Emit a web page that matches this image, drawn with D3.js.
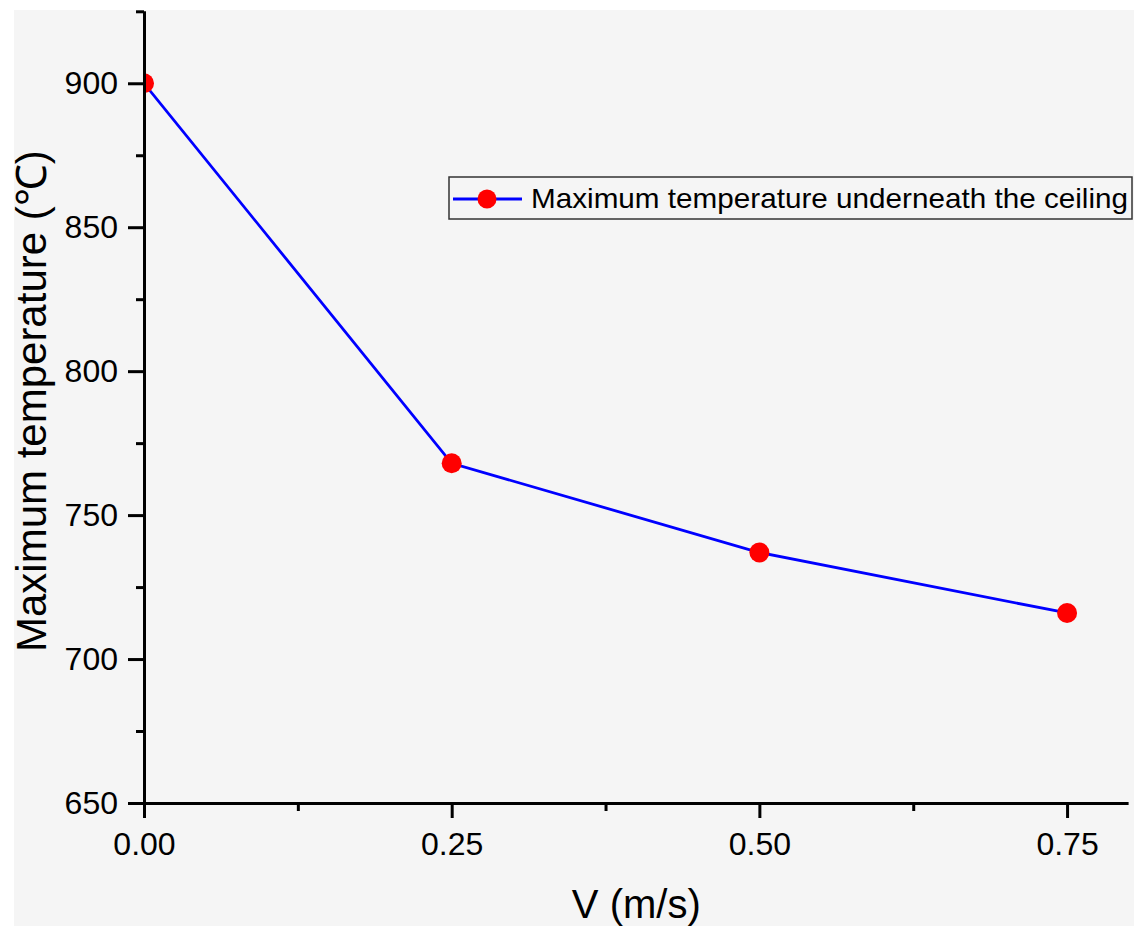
<!DOCTYPE html>
<html>
<head>
<meta charset="utf-8">
<script src="https://cdn.jsdelivr.net/npm/d3@7"></script>
<style>
  html, body { margin: 0; padding: 0; background: #ffffff; }
  svg { display: block; }
  text { font-family: "Liberation Sans", Arial, sans-serif; fill: #000; }
</style>
</head>
<body>
<svg id="chart" width="1142" height="926"></svg>
<script>
// Air velocity (m/s) and the peak ceiling temperature (°C) at each velocity
const velocities = [0, 0.25, 0.5, 0.75];
const maxTemps = [900, 768, 737, 716];
const xTicks = [0, 0.25, 0.5, 0.75];
const xMinorTicks = [0.125, 0.375, 0.625];
const yTicks = [650, 700, 750, 800, 850, 900];
const yMinorTicks = [675, 725, 775, 825, 875, 925];
const seriesName = "Maximum temperature underneath the ceiling";
const xTitle = "V (m/s)";
const yTitle = "Maximum temperature (\u2103)";

const svg = d3.select("#chart");
const plot = { left: 144, right: 1128.6, top: 11.3, bottom: 803 };

// Light grey page panel
svg.append("rect")
  .attr("x", 14).attr("y", 10)
  .attr("width", 1120).attr("height", 916)
  .attr("fill", "#f5f5f5");

const x = d3.scaleLinear().domain([0, 0.8]).range([plot.left, plot.right]);
const y = d3.scaleLinear().domain([650, 925]).range([plot.bottom, plot.top]);

svg.append("clipPath").attr("id", "plotClip")
  .append("rect")
  .attr("x", plot.left).attr("y", plot.top - 20)
  .attr("width", plot.right - plot.left + 20)
  .attr("height", plot.bottom - plot.top + 20);

const data = velocities.map((v, i) => ({ v, t: maxTemps[i] }));

const g = svg.append("g").attr("clip-path", "url(#plotClip)");

g.append("path")
  .datum(data)
  .attr("fill", "none")
  .attr("stroke", "#0000ff")
  .attr("stroke-width", 2.8)
  .attr("d", d3.line().x(d => x(d.v)).y(d => y(d.t)));

g.selectAll("circle.pt")
  .data(data)
  .join("circle")
  .attr("class", "pt")
  .attr("cx", d => x(d.v))
  .attr("cy", d => y(d.t))
  .attr("r", 10)
  .attr("fill", "#ff0000");

// Axes: major ticks with labels, minor ticks without
function styleAxis(sel) {
  sel.selectAll("path.domain").attr("stroke", "#000").attr("stroke-width", 3);
  sel.selectAll(".tick line").attr("stroke", "#000").attr("stroke-width", 3);
  sel.selectAll(".tick text")
    .attr("font-family", "'Liberation Sans', Arial, sans-serif")
    .attr("font-size", 32).attr("fill", "#000");
}

const xAxisMinor = svg.append("g")
  .attr("transform", `translate(0,${plot.bottom})`)
  .call(d3.axisBottom(x).tickValues(xMinorTicks).tickSize(8).tickFormat(""));
xAxisMinor.select("path.domain").remove();
styleAxis(xAxisMinor);

const xAxis = svg.append("g")
  .attr("transform", `translate(0,${plot.bottom})`)
  .call(d3.axisBottom(x).tickValues(xTicks).tickSize(15).tickPadding(14)
    .tickSizeOuter(0).tickFormat(d3.format(".2f")));
styleAxis(xAxis);
xAxis.select("path.domain").attr("d", `M${plot.left - 16},0.5H${plot.right}`);

const yAxisMinor = svg.append("g")
  .attr("transform", `translate(${plot.left},0)`)
  .call(d3.axisLeft(y).tickValues(yMinorTicks).tickSize(8).tickFormat(""));
yAxisMinor.select("path.domain").remove();
styleAxis(yAxisMinor);

const yAxis = svg.append("g")
  .attr("transform", `translate(${plot.left},0)`)
  .call(d3.axisLeft(y).tickValues(yTicks).tickSize(16).tickPadding(10)
    .tickSizeOuter(0).tickFormat(d3.format("d")));
styleAxis(yAxis);
yAxis.select("path.domain").attr("d", `M0.5,${plot.top}V${plot.bottom + 15}`);

// Axis titles
svg.append("text")
  .attr("x", (plot.left + plot.right) / 2)
  .attr("y", 918)
  .attr("text-anchor", "middle")
  .attr("font-size", 40)
  .text(xTitle);

svg.append("text")
  .attr("transform", `translate(46,${(plot.top + plot.bottom) / 2 - 6}) rotate(-90)`)
  .attr("text-anchor", "middle")
  .attr("font-size", 42)
  .text(yTitle);

// Legend
const legend = svg.append("g").attr("transform", "translate(449,177)");
legend.append("rect")
  .attr("width", 683).attr("height", 42)
  .attr("fill", "#f5f5f5")
  .attr("stroke", "#333").attr("stroke-width", 1.5);
legend.append("line")
  .attr("x1", 4).attr("x2", 73).attr("y1", 22).attr("y2", 22)
  .attr("stroke", "#0000ff").attr("stroke-width", 2.8);
legend.append("circle")
  .attr("cx", 38).attr("cy", 22).attr("r", 9.5).attr("fill", "#ff0000");
legend.append("text")
  .attr("transform", "translate(82,31) scale(1.06,1)")
  .attr("font-size", 28)
  .text(seriesName);
</script>
</body>
</html>
